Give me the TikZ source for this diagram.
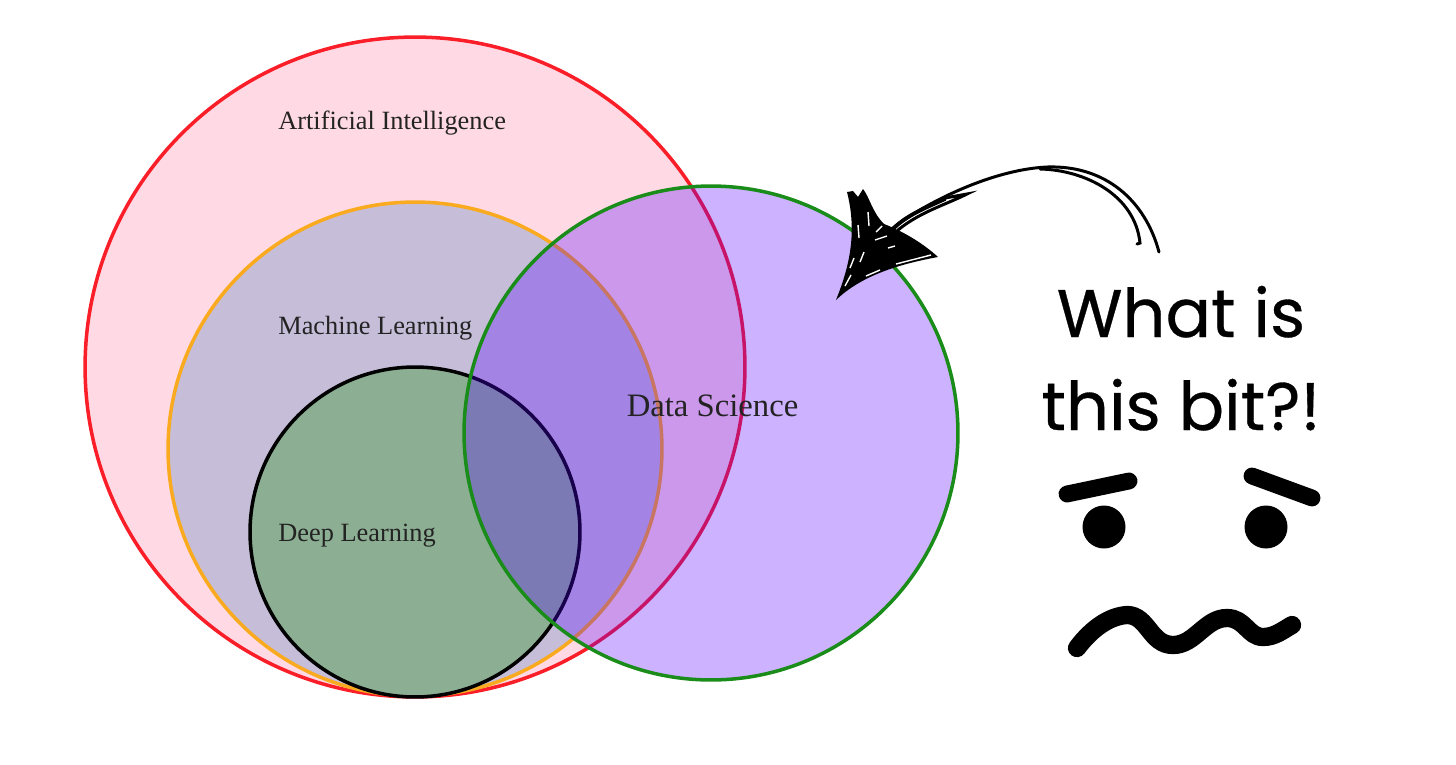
\documentclass[tikz,border=0pt]{standalone}
\usepackage{fontspec}
\usepackage{xcolor}
\setmainfont{Liberation Serif}
\newfontfamily\facefont[FakeBold=0.5]{Poppins}
\definecolor{aired}{RGB}{250,30,40}
\definecolor{aifill}{RGB}{255,218,228}
\definecolor{mlorange}{RGB}{250,170,30}
\definecolor{mlfill}{RGB}{198,189,217}
\definecolor{dlfill}{RGB}{140,175,148}
\definecolor{dsgreen}{RGB}{25,140,25}
\definecolor{dsfill}{RGB}{85,0,255}
\definecolor{labelgrey}{RGB}{35,35,35}
\begin{document}
\begin{tikzpicture}[x=0.02cm,y=-0.02cm,
  ring/.style={circle,draw,line width=2pt,inner sep=0pt,outer sep=0pt},
  lab/.style={anchor=base west,inner sep=0pt,text=labelgrey,font=\fontsize{15}{17}\selectfont},
  shout/.style={anchor=base,inner sep=0pt,font=\facefont\fontsize{38.3}{44}\selectfont},
  brow/.style={line width=9.6pt,line cap=round},
  quill/.style={line width=1.7pt,line cap=round}]
\useasboundingbox (0,0) rectangle (1456,764);
% the nested sets
\node[ring,draw=aired,fill=aifill,minimum size=13.2cm] (ai) at (415,367) {};
\node[ring,draw=mlorange,fill=mlfill,minimum size=9.88cm] (ml) at (415,449) {};
\node[ring,draw=black,fill=dlfill,minimum size=6.6cm] (dl) at (415,532) {};
\node[ring,draw=none,fill=dsfill,fill opacity=0.3,minimum size=9.88cm] (ds) at (711,433) {};
\node[ring,draw=dsgreen,minimum size=9.88cm] (dsline) at (711,433) {};
% labels
\foreach \name/\y/\txt in {ailab/129/Artificial Intelligence,mllab/334/Machine Learning,dllab/541/Deep Learning}{
  \node[lab] (\name) at (278,\y) {\txt};
}
\node[lab,anchor=base,font=\fontsize{18.6}{21}\selectfont] (dslab) at (712.5,416) {Data Science};
\node[shout] (what) at (1181,337) {What is};
\node[shout] (bit) at (1181,430) {this bit?!};
% the arrow, head first
\coordinate (tip) at (836,300);
\coordinate (neck) at (893,228);
\coordinate (endA) at (1159,252);
\coordinate (endB) at (1140,243);
\fill (tip) .. controls (848,270) and (858,235) .. (847,192) -- (853,191) -- (858,197) -- (863,189)
  .. controls (870,198) and (872,212) .. (884,224) .. controls (905,232) and (925,245) .. (938,257)
  .. controls (900,264) and (862,275) .. (tip) -- cycle;
\draw[white,line width=0.8pt] (845,286) -- (851,275) (850,268) -- (854,258) (858,225) -- (859,238)
  (868,212) -- (869,226) (876,232) -- (882,226) (875,240) -- (887,236) (888,248) -- (895,246)
  (896,264) -- (931,255) (866,276) -- (880,270) (860,262) -- (864,252);
\draw[quill] (neck) .. controls (915,210) and (985,170) .. (1047,167)
  .. controls (1105,165) and (1145,200) .. (endA);
\draw[quill,line width=2.2pt] (892,230) .. controls (905,216) and (925,208) .. (945,199);
\draw[quill] (898,230) .. controls (920,212) and (945,205) .. (967,194) -- (945,198);
\draw[quill] (1040,169) .. controls (1085,170) and (1135,195) .. (endB) -- (1137,244);
% the face
\foreach \name/\x in {eyeL/1104,eyeR/1266}{
  \node[circle,fill=black,inner sep=0pt,minimum size=0.86cm] (\name) at (\x,527) {};
}
\draw[brow] (1067,494) -- (1129,481);
\draw[brow] (1252,476) -- (1312,498);
\draw[brow,line width=10.4pt] (1077,648) .. controls (1092,628) and (1110,616) .. (1127,615)
  .. controls (1148,615) and (1150,645) .. (1173,645) .. controls (1195,645) and (1205,618) .. (1227,618)
  .. controls (1245,618) and (1248,637) .. (1263,637) .. controls (1275,637) and (1283,630) .. (1292,625);
\end{tikzpicture}
\end{document}
